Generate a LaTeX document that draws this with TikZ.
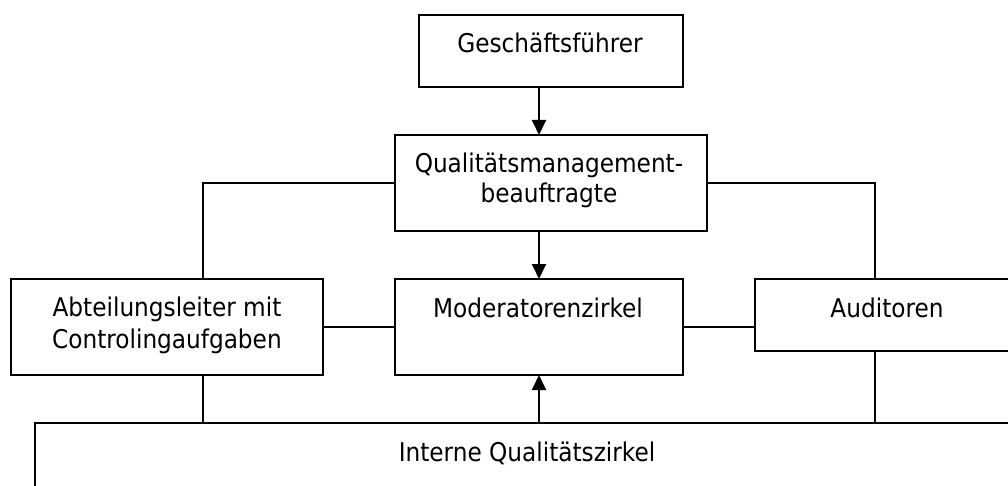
\documentclass[tikz,border=0pt]{standalone}
\usepackage{fontspec}
\setmainfont{DejaVu Sans Condensed}
\usetikzlibrary{arrows.meta}
\begin{document}
\begin{tikzpicture}[x=1pt,y=-1pt,
  box/.style={draw, line width=2pt, inner sep=0pt, outer sep=0pt},
  txt/.style={anchor=base, inner sep=0pt, font=\fontsize{25.8}{31}\selectfont},
  conn/.style={line width=2pt},
  arr/.style={conn, -{Triangle[length=15pt,width=14pt]}}]
\useasboundingbox (0,0) rectangle (1008,486);
\clip (0,0) rectangle (1008,486);
\fill[white] (0,0) rectangle (1008,486);
% boxes
\node[box, minimum width=264, minimum height=72] (gf) at (551,51) {};
\node[box, minimum width=312, minimum height=96] (qm) at (551,183) {};
\node[box, minimum width=312, minimum height=96] (abt) at (167,327) {};
\node[box, minimum width=288, minimum height=96] (mod) at (539,327) {};
\node[box, minimum width=264, minimum height=72] (aud) at (887,315) {};
\node[box, minimum width=984, minimum height=80] (iq) at (527,463) {};
% texts
\node[txt] (gft) at (550,53) {Geschäftsführer};
\node[txt] (qmt1) at (549,173) {Qualitätsmanagement-};
\node[txt] (qmt2) at (549,203) {beauftragte};
\node[txt] (abt1) at (167,316) {Abteilungsleiter mit};
\node[txt] (abt2) at (167,348) {Controlingaufgaben};
\node[txt] (modt) at (538,317) {Moderatorenzirkel};
\node[txt] (audt) at (887,317) {Auditoren};
\node[txt] (iqt) at (527,461) {Interne Qualitätszirkel};
% helper columns
\coordinate (cx) at (539,0);
\coordinate (lx) at (203,0);
\coordinate (rx) at (875,0);
% connectors
\draw[arr] (gf.south -| cx) -- (qm.north -| cx);
\draw[arr] (qm.south -| cx) -- (mod.north -| cx);
\draw[arr] (iq.north -| cx) -- (mod.south -| cx);
\draw[conn] (qm.west) -| (abt.north -| lx);
\draw[conn] (qm.east) -| (aud.north -| rx);
\draw[conn] (abt.east) -- (mod.west);
\draw[conn] (mod.east) -- (mod.east -| aud.west);
\draw[conn] (abt.south -| lx) -- (iq.north -| lx);
\draw[conn] (aud.south -| rx) -- (iq.north -| rx);
\end{tikzpicture}
\end{document}
